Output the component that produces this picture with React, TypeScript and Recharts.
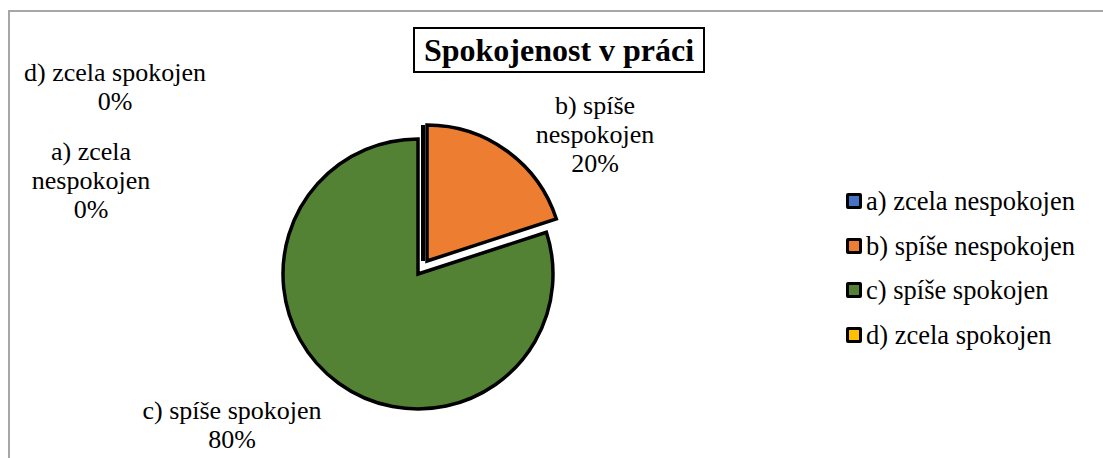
import { PieChart, Pie, Cell } from "recharts";

// survey answers, in Excel's series order
const categories = [
  "a) zcela nespokojen",
  "b) spíše nespokojen",
  "c) spíše spokojen",
  "d) zcela spokojen",
];
const shares = [0, 20, 80, 0];
const colors = ["#4472C4", "#ED7D31", "#548235", "#FFC000"];
// how the data labels wrap (percentage is appended)
const labelLines = [
  ["a) zcela", "nespokojen"],
  ["b) spíše", "nespokojen"],
  ["c) spíše spokojen"],
  ["d) zcela spokojen"],
];
const title = "Spokojenost v práci";

// label block centres, relative to the pie centre (Excel "best fit")
const labelOffset = [
  [-327, -94],
  [177, -140],
  [-186, 150],
  [-303, -188],
];

const FONT = '"Liberation Serif", "Times New Roman", serif';
const data = categories.map((name, i) => ({ name, value: shares[i] }));

// which slices go on which layer: base, exploded, zero-width
const layerOf = (i: number) => (shares[i] === 0 ? 2 : i === 1 ? 1 : 0);

const renderLabel = (props: any) => {
  const { cx, cy, index, percent } = props;
  const [dx, dy] = labelOffset[index];
  const lines = [...labelLines[index], `${Math.round((percent ?? 0) * 100)}%`];
  const lh = 29;
  const top = cy + dy - ((lines.length - 1) * lh) / 2;
  return (
    <text
      key={`lbl-${index}`}
      x={cx + dx}
      y={top}
      textAnchor="middle"
      dominantBaseline="central"
      fontFamily={FONT}
      fontSize={26}
      fill="#000"
    >
      {lines.map((l, k) => (
        <tspan key={k} x={cx + dx} y={top + k * lh}>
          {l}
        </tspan>
      ))}
    </text>
  );
};

// zero-value slices collapse to a line along the start radius
const renderZeroLine = (props: any) => {
  const { cx, cy, outerRadius, midAngle, index } = props;
  if (shares[index] !== 0) return <g key={`z-${index}`} />;
  const rad = (-midAngle * Math.PI) / 180;
  return (
    <line
      key={`z-${index}`}
      x1={cx}
      y1={cy}
      x2={cx + outerRadius * Math.cos(rad)}
      y2={cy + outerRadius * Math.sin(rad)}
      stroke="#000"
      strokeWidth={4}
    />
  );
};

const Legend = () => (
  <div
    style={{
      position: "absolute",
      left: 846,
      top: 179,
      fontFamily: FONT,
      fontSize: 26.5,
      lineHeight: "44.5px",
    }}
  >
    {categories.map((c, i) => (
      <div key={c} style={{ display: "flex", alignItems: "center" }}>
        <span
          style={{
            display: "inline-block",
            width: 10,
            height: 10,
            background: colors[i],
            border: "3px solid #000",
            borderRadius: 2,
            marginRight: 4,
          }}
        />
        {c}
      </div>
    ))}
  </div>
);

const noMargin = { top: 0, right: 0, bottom: 0, left: 0 };

export default function App() {
  return (
    <div style={{ position: "relative", width: 1103, height: 458, overflow: "hidden", background: "#fff" }}>
      <style>{"body{margin:0}"}</style>
      <div
        style={{
          position: "absolute",
          left: 8,
          top: 10,
          width: 1200,
          height: 600,
          borderTop: "2px solid #a6a6a6",
          borderLeft: "2px solid #a6a6a6",
        }}
      />
      <div
        style={{
          position: "absolute",
          left: 413,
          top: 27,
          width: 288,
          height: 42,
          border: "2px solid #000",
          fontFamily: FONT,
          fontWeight: "bold",
          fontSize: 32,
          lineHeight: "42px",
          textAlign: "center",
          whiteSpace: "nowrap",
        }}
      >
        {title}
      </div>
      <div style={{ position: "absolute", left: 0, top: 0 }}>
        <PieChart width={1103} height={458} margin={noMargin}>
          {/* base pie: green slice + all labels */}
          <Pie
            data={data}
            dataKey="value"
            nameKey="name"
            cx={418}
            cy={274}
            outerRadius={135}
            startAngle={90}
            endAngle={-270}
            label={renderLabel}
            labelLine={false}
            isAnimationActive={false}
          >
            {data.map((d, i) => (
              <Cell
                key={d.name}
                fill={layerOf(i) === 0 ? colors[i] : "transparent"}
                stroke={layerOf(i) === 0 ? "#000" : "none"}
                strokeWidth={3.5}
              />
            ))}
          </Pie>
          {/* exploded orange slice */}
          <Pie
            data={data}
            dataKey="value"
            nameKey="name"
            cx={427}
            cy={261}
            outerRadius={136}
            startAngle={90}
            endAngle={-270}
            labelLine={false}
            isAnimationActive={false}
          >
            {data.map((d, i) => (
              <Cell
                key={d.name}
                fill={layerOf(i) === 1 ? colors[i] : "transparent"}
                stroke={layerOf(i) === 1 ? "#000" : "none"}
                strokeWidth={3.5}
              />
            ))}
          </Pie>
          {/* zero slices, drawn as lines */}
          <Pie
            data={data}
            dataKey="value"
            nameKey="name"
            cx={423}
            cy={261}
            outerRadius={136}
            startAngle={90}
            endAngle={-270}
            label={renderZeroLine}
            labelLine={false}
            isAnimationActive={false}
          >
            {data.map((d) => (
              <Cell key={d.name} fill="transparent" stroke="none" />
            ))}
          </Pie>
        </PieChart>
      </div>
      <Legend />
    </div>
  );
}
